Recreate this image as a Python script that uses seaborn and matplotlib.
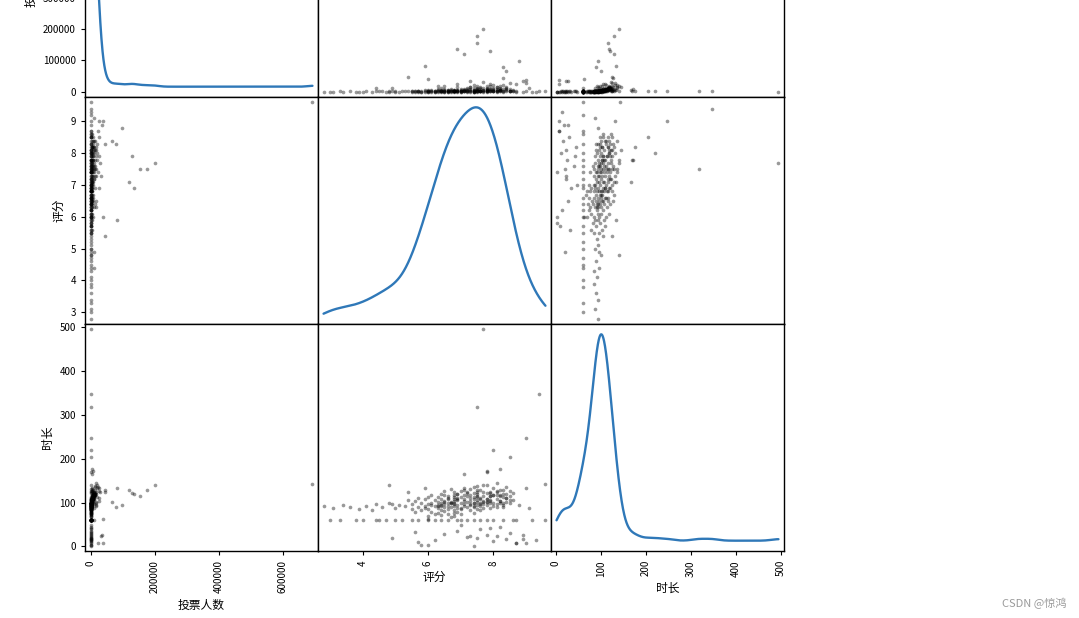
"""
Scatter matrix of Douban movie data: votes, rating and duration.
Off-diagonal cells are scatter plots, diagonal cells are KDE curves.
"""

import matplotlib
matplotlib.use("Agg")
import numpy as np
import pandas as pd
import matplotlib.pyplot as plt
from matplotlib.ticker import MultipleLocator, FixedLocator
import seaborn as sns

# ===============================
# Data
# ===============================
columns = ["投票人数", "评分", "时长"]

votes = [
    # well-known films with many votes
    692795, 201000, 177000, 155000, 136000, 129000, 120000, 99000, 83000,
    80000, 66000, 46000, 45000, 40000, 38000, 35000, 33000, 24000,
    # moderate vote counts
    11000, 26500, 20000, 18000, 26000, 30000, 16000, 26000, 18000,
    17000, 11000, 11000, 8000, 14000, 22000, 12000, 28000, 9000,
    # very long films
    300, 1200, 800, 500, 2500, 900, 3500, 4000, 1500, 600, 2200,
    # duration recorded as 60
    150, 420, 90, 260, 1300, 380, 210, 870, 130, 540, 2400, 310, 760,
    180, 1900, 450, 620, 240, 3300, 160, 1050, 280, 690, 1400, 350,
    # short films
    150, 400, 250, 600, 100, 300, 700, 200, 350, 500, 900, 450, 320,
    280, 180, 650, 1100, 520, 230, 140, 760, 410, 90,
    # low ratings
    200, 350, 120, 500, 260, 800, 140, 430, 1200, 310, 950, 180, 650, 2700,
    # main cluster
    1800, 420, 260, 3100, 640, 1500,
    330, 2900, 150, 5200, 870, 210, 1600, 6800, 480, 2300, 120, 960,
    4100, 370, 1250, 590, 7900, 2600,
    440, 3700, 9500, 180, 1100,
    290, 2050, 5600, 12500, 610, 1400,
    3300, 760, 8700, 240, 4600, 1700,
    520, 2800, 6300, 350, 10400, 980, 1900,
    4400, 690, 7200, 160, 2200,
    1300, 450, 2600, 880, 3900, 270, 1500, 620, 5100, 2000,
    1750, 5900, 13500, 400, 830,
    2400, 9100, 310, 4800, 1150,
    700, 3500, 8200, 1600, 6100,
    2700, 540, 10900, 4300,
    1900, 7600, 380, 14800, 3100, 5400,
    1200, 6700, 11800, 460, 3800, 250, 2500,
    4200, 9800, 16500, 820, 6900, 2100, 12700,
    3400, 8800, 1300, 15300, 560,
    5700, 10200, 2300, 740,
    4500, 13100, 1800, 7300, 19500,
    2900, 8400, 650, 17200, 5000,
    3600, 11400, 1400, 21000,
    6200, 2000, 9700, 15900,
    4700, 12300, 7800,
    3000, 9300, 5500, 14200, 2600, 6600, 1700,
    4900,
    880, 3900, 1500, 6100, 430, 2600, 9400, 720, 3200, 1100,
    5800, 2200, 8100, 390, 4100, 1600, 7000, 2500, 3700, 950,
]

score = [
    9.6, 7.7, 7.5, 7.5, 6.9, 7.9, 7.1, 8.8, 5.9,
    8.3, 8.4, 5.4, 8.3, 6.0, 9.0, 8.9, 7.3, 8.7,
    9.1, 9.0, 8.3, 8.2, 7.9, 7.7, 7.3, 6.9, 6.5,
    6.3, 4.9, 4.4, 7.8, 8.1, 7.4, 7.6, 8.5, 6.7,
    7.7, 9.4, 7.5, 9.0, 8.0, 8.5, 8.2, 7.1, 7.8, 4.8, 9.6,
    3.0, 3.3, 3.8, 4.0, 4.5, 4.7, 5.0, 5.2, 5.5, 5.7, 6.0, 6.2, 6.4,
    6.6, 6.9, 7.0, 7.2, 7.4, 7.6, 7.8, 8.0, 8.3, 8.6, 8.7, 9.2,
    8.7, 8.1, 7.5, 4.9, 5.8, 5.7, 5.6, 9.3, 8.9, 8.5, 8.0, 7.8, 7.2,
    6.9, 6.5, 6.2, 7.6, 8.2, 7.0, 6.0, 8.4, 7.9, 7.4,
    2.8, 3.1, 3.4, 3.6, 3.9, 4.1, 4.3, 4.4, 4.6, 4.8, 5.0, 5.1, 5.3, 5.4,
    5.5, 5.5, 5.6, 5.6, 5.7, 5.7,
    5.8, 5.8, 5.9, 5.9, 5.9, 6.0, 6.0, 6.0, 6.0, 6.1, 6.1, 6.1,
    6.1, 6.2, 6.2, 6.2, 8.5, 8.6,
    6.3, 6.3, 6.3, 6.3, 6.3,
    6.4, 6.4, 6.4, 6.4, 6.4, 6.4,
    6.5, 6.5, 6.5, 6.5, 6.5, 6.5,
    6.6, 6.6, 6.6, 6.6, 8.4, 6.6, 6.6,
    6.7, 6.7, 7.9, 6.7, 6.7,
    6.8, 6.8, 6.8, 6.8, 6.8, 6.8, 6.8, 6.8, 6.8, 6.8,
    6.9, 6.9, 6.9, 6.9, 6.9,
    7.0, 7.0, 7.0, 7.0, 7.0,
    7.1, 7.1, 7.1, 7.1, 7.1,
    7.2, 7.2, 7.2, 7.2,
    7.3, 7.3, 7.3, 7.3, 7.3, 7.3,
    7.4, 7.4, 7.4, 7.4, 7.4, 7.4, 7.4,
    7.5, 7.5, 7.5, 7.5, 7.5, 7.5, 7.5,
    7.6, 7.6, 7.6, 7.6, 7.6,
    7.7, 7.7, 7.7, 7.7,
    7.8, 7.8, 7.8, 7.8, 7.8,
    7.9, 7.9, 7.9, 7.9, 7.9,
    8.0, 8.0, 8.0, 8.0,
    8.1, 8.1, 8.1, 8.1,
    8.2, 8.2, 8.2,
    8.3, 8.3, 8.4, 8.4, 8.5, 8.2, 8.1,
    7.8,
    6.4, 6.6, 6.7, 6.9, 7.0, 7.1, 7.2, 7.4, 7.5, 7.6,
    7.7, 7.8, 8.0, 8.1, 8.2, 8.3, 8.4, 8.5, 8.6, 6.8,
]

duration = [
    142, 140, 129, 116, 119, 121, 129, 95, 134,
    90, 101, 125, 128, 62, 8, 27, 24, 8,
    88, 132, 112, 98, 104, 123, 95, 110, 102,
    92, 97, 60, 172, 118, 135, 107, 126, 100,
    494, 346, 317, 246, 220, 204, 176, 166, 169, 140, 60,
    60, 60, 60, 60, 60, 60, 60, 60, 60, 60, 60, 60, 60,
    60, 60, 60, 60, 60, 60, 60, 60, 60, 60, 60, 60,
    7, 24, 20, 20, 4, 10, 32, 15, 18, 30, 12, 25, 22,
    35, 28, 14, 40, 45, 48, 3, 16, 42, 2,
    93, 88, 95, 90, 86, 92, 84, 96, 89, 100, 87, 94, 91, 106,
    85, 96, 78, 103, 90, 110,
    82, 99, 88, 107, 93, 70, 97, 112, 86, 100, 79, 94,
    118, 91, 105, 74, 115, 122,
    87, 101, 113, 76, 95,
    83, 98, 108, 120, 72, 92,
    89, 104, 117, 96, 127, 81,
    93, 100, 111, 75, 119, 86, 109,
    102, 90, 114, 68, 130,
    69, 77, 84, 91, 97, 103, 108, 113, 117, 124,
    88, 106, 120, 94, 78,
    99, 112, 85, 126, 73,
    92, 108, 117, 97, 134,
    101, 89, 115, 123,
    96, 110, 84, 118, 103, 131,
    98, 107, 121, 90, 113, 76, 100,
    95, 105, 119, 86, 124, 101, 137,
    93, 111, 99, 128, 82,
    104, 116, 97, 88,
    102, 122, 94, 109, 141,
    99, 114, 87, 125, 106,
    100, 118, 92, 132,
    108, 96, 123, 145,
    103, 115, 129,
    98, 120, 110, 135, 105, 117, 126,
    102,
    94, 116, 99, 109, 88, 104, 121, 92, 112, 96,
    101, 107, 118, 90, 103, 95, 111, 98, 106, 100,
]

tick_steps = {"投票人数": 100000, "评分": 1, "时长": 100}
x_tick_steps = {"投票人数": 200000, "评分": 2, "时长": 100}

df = pd.DataFrame({"投票人数": votes, "评分": score, "时长": duration})

# ===============================
# Style
# ===============================
sns.set_style("ticks", {
    "axes.edgecolor": "black",
    "xtick.color": "black",
    "ytick.color": "black",
    "text.color": "black",
    "axes.labelcolor": "black",
})
plt.rcParams["font.family"] = ["Noto Sans CJK SC", "DejaVu Sans"]
plt.rcParams["axes.unicode_minus"] = False
plt.rcParams["axes.linewidth"] = 1.0

W, H = 1079, 618
fig = plt.figure(figsize=(W / 100, H / 100), dpi=100)

# grid geometry in pixels (top row is cut off by the screenshot)
col_left = [85, 318, 551]
row_top = [-130, 97, 324]
cell_w, cell_h = 233, 227

# pandas-style boundaries with 5% range padding
bounds = {}
for c in columns:
    lo, hi = df[c].min(), df[c].max()
    ext = (hi - lo) * 0.05 / 2
    bounds[c] = (lo - ext, hi + ext)

axes = [[None] * 3 for _ in range(3)]
for i, a in enumerate(columns):
    for j, b in enumerate(columns):
        ax = fig.add_axes([col_left[j] / W, 1 - (row_top[i] + cell_h) / H,
                           cell_w / W, cell_h / H])
        axes[i][j] = ax
        if i == j:
            sns.kdeplot(x=df[a], ax=ax, cut=0, gridsize=1000,
                        color="#2f78b8", linewidth=1.7)
            ax.use_sticky_edges = False
            ax.relim()
            ax.autoscale_view()
            ax.set_xlim(bounds[a])
        else:
            sns.scatterplot(x=df[b], y=df[a], ax=ax, color="black",
                            alpha=0.4, s=7, linewidth=0, marker="o")
            ax.set_xlim(bounds[b])
            ax.set_ylim(bounds[a])
            ax.yaxis.set_major_locator(MultipleLocator(tick_steps[a]))
        ax.xaxis.set_major_locator(MultipleLocator(x_tick_steps[b]))
        ax.set_xlabel(b, fontsize=8.5)
        ax.set_ylabel(a, fontsize=8.5)
        ax.tick_params(labelsize=7, length=3, width=0.8)
        ax.tick_params(axis="x", labelrotation=90)
        if j != 0:
            ax.yaxis.set_visible(False)
        if i != 2:
            ax.xaxis.set_visible(False)

# relabel the first diagonal cell with the vote ticks (as pandas does)
lim1 = bounds["投票人数"]
locs = axes[0][1].yaxis.get_majorticklocs()
locs = locs[(lim1[0] <= locs) & (locs <= lim1[1])]
adj = (locs - lim1[0]) / (lim1[1] - lim1[0])
lim0 = axes[0][0].get_ylim()
adj = adj * (lim0[1] - lim0[0]) + lim0[0]
axes[0][0].yaxis.set_major_locator(FixedLocator(adj))
axes[0][0].yaxis.set_ticklabels(locs.astype(int))

fig.text(1066 / W, 1 - 603 / H, "CSDN @惊鸿", ha="right", va="center",
         fontsize=8, color="#9a9a9a")

fig.savefig("out.png", dpi=100)
